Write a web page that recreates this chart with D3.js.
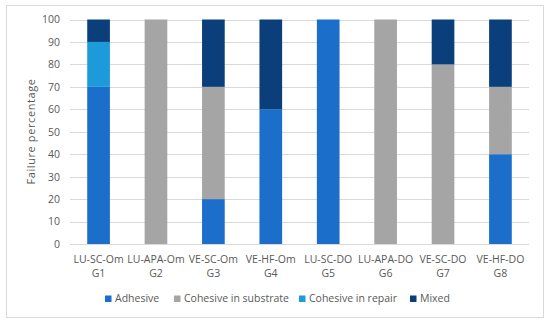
<!DOCTYPE html>
<html><head><meta charset="utf-8">
<script src="https://cdn.jsdelivr.net/npm/d3@7"></script>
<style>body{margin:0;background:#fff}svg{display:block}</style>
</head><body><svg id="c" width="550" height="323"></svg>
<script>
const categories = [["LU-SC-Om","G1"],["LU-APA-Om","G2"],["VE-SC-Om","G3"],["VE-HF-Om","G4"],["LU-SC-DO","G5"],["LU-APA-DO","G6"],["VE-SC-DO","G7"],["VE-HF-DO","G8"]];
const seriesNames = ["Adhesive","Cohesive in substrate","Cohesive in repair","Mixed"];
const adhesive = [70,0,20,60,100,0,0,40];
const cohesiveSubstrate = [0,100,50,0,0,100,80,30];
const cohesiveRepair = [20,0,0,0,0,0,0,0];
const mixed = [10,0,30,40,0,0,20,30];
const yTicks = [0,10,20,30,40,50,60,70,80,90,100];
const colors = ["#1B6FCB","#A5A5A5","#1C9AD9","#0B3F7B"];

const svg = d3.select("#c");
const font = "'Open Sans', 'Liberation Sans', sans-serif";
svg.append("rect").attr("x",6.5).attr("y",5.5).attr("width",537).attr("height",312)
  .attr("fill","#fff").attr("stroke","#d9d9d9");

const m = {l:70,r:529,t:19.5,b:244};
const x = d3.scaleBand().domain(categories.map((d,i)=>i)).range([m.l,m.r]).paddingInner(0.605).paddingOuter(0.3);
const y = d3.scaleLinear().domain([0,100]).range([m.b,m.t]);

// gridlines
svg.append("g").selectAll("line").data(yTicks).join("line")
  .attr("x1",m.l).attr("x2",m.r).attr("y1",d=>Math.round(y(d))+0.5).attr("y2",d=>Math.round(y(d))+0.5)
  .attr("stroke","#d9d9d9").attr("stroke-width",1);

const data = categories.map((c,i)=>({i, Adhesive:adhesive[i], "Cohesive in substrate":cohesiveSubstrate[i], "Cohesive in repair":cohesiveRepair[i], Mixed:mixed[i]}));
const stack = d3.stack().keys(seriesNames)(data);
svg.append("g").selectAll("g").data(stack).join("g").attr("fill",(d,k)=>colors[k])
  .selectAll("rect").data(d=>d).join("rect")
  .attr("x",d=>x(d.data.i)).attr("width",x.bandwidth())
  .attr("y",d=>y(d[1])).attr("height",d=>y(d[0])-y(d[1]));

// y axis labels
const yAxis = d3.axisLeft(y).tickValues(yTicks).tickSize(0).tickPadding(10);
const ga = svg.append("g").attr("transform",`translate(${m.l},0)`).call(yAxis);
ga.select(".domain").remove();
ga.selectAll("text").attr("font-family",font).attr("font-size",10.5).attr("fill","#595959");

// x labels
const xl = svg.append("g").selectAll("text").data(categories).join("text")
  .attr("x",(d,i)=>x(i)+x.bandwidth()/2).attr("y",263).attr("text-anchor","middle")
  .attr("font-family",font).attr("font-size",10.5).attr("fill","#595959");
xl.append("tspan").attr("x",(d,i)=>x(i)+x.bandwidth()/2).text(d=>d[0]);
xl.append("tspan").attr("x",(d,i)=>x(i)+x.bandwidth()/2).attr("dy",13.5).text(d=>d[1]);

// y title
svg.append("text").attr("transform","translate(35,131.5) rotate(-90)").attr("text-anchor","middle")
  .attr("font-family",font).attr("font-size",11).attr("fill","#595959").attr("letter-spacing",0.6)
  .text("Failure  percentage");

// legend
const legX = [105,174,299,410];
const lg = svg.append("g").selectAll("g").data(seriesNames).join("g")
  .attr("transform",(d,i)=>`translate(${legX[i]},302)`);
lg.append("rect").attr("x",0).attr("y",-6.5).attr("width",6.5).attr("height",6.5).attr("fill",(d,i)=>colors[i]);
lg.append("text").attr("x",10).attr("y",0).attr("font-family",font).attr("font-size",10.5).attr("fill","#595959").text(d=>d);
</script></body></html>
